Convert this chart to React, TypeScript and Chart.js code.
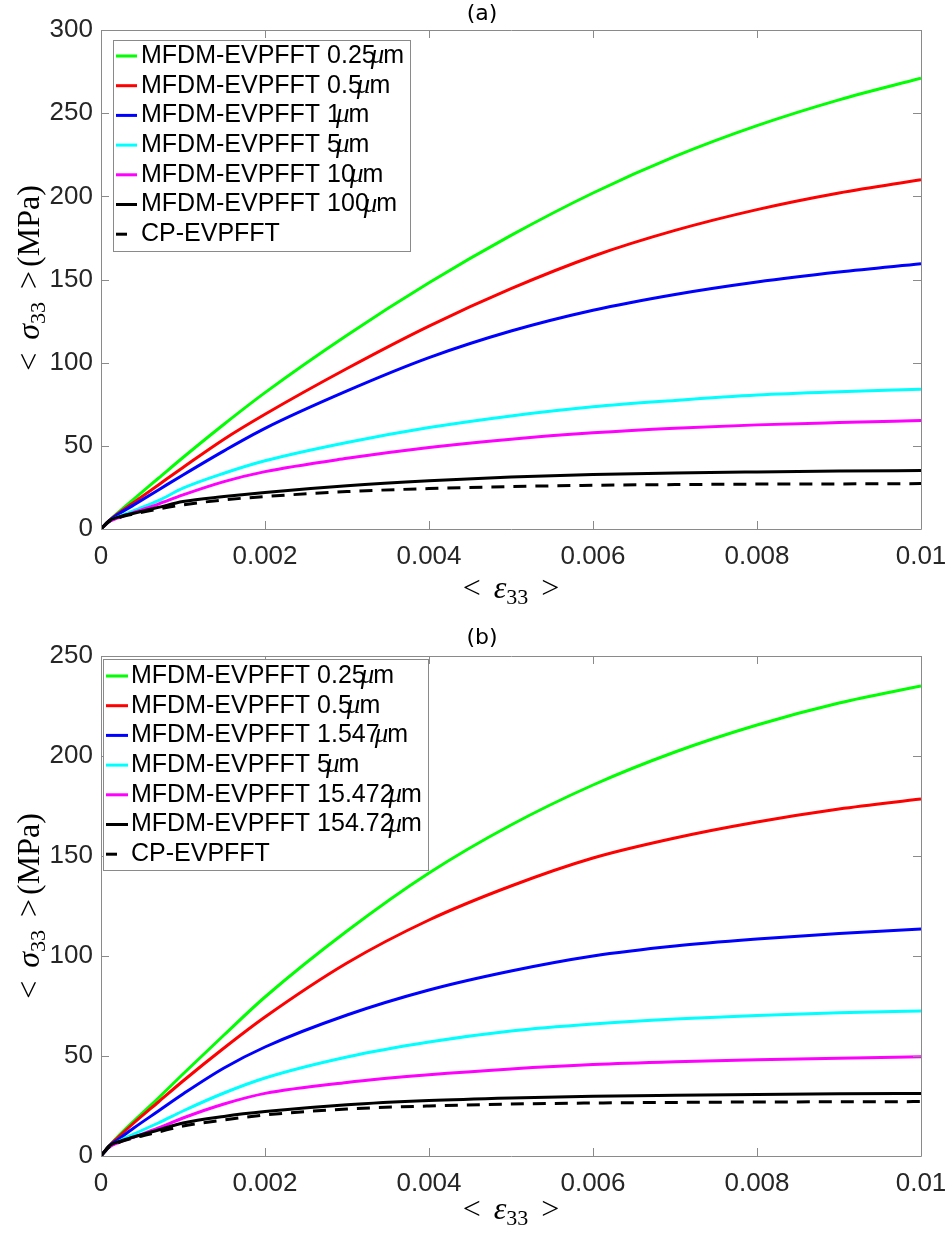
import React, { useEffect, useRef } from "react";
import { Chart, registerables } from "chart.js";

Chart.register(...registerables);

// ---------------- data ----------------
const strain = [0, 0.0001, 0.0002, 0.0004, 0.0007, 0.001, 0.0015, 0.002, 0.003, 0.004, 0.005, 0.006, 0.007, 0.008, 0.009, 0.01];

const xTickValues = [0, 0.002, 0.004, 0.006, 0.008, 0.01];
const xTickLabels = ["0", "0.002", "0.004", "0.006", "0.008", "0.01"];
const yTicksA = [0, 50, 100, 150, 200, 250, 300];
const yTicksB = [0, 50, 100, 150, 200, 250];

const labelsA = [
  "MFDM-EVPFFT 0.25μm",
  "MFDM-EVPFFT 0.5μm",
  "MFDM-EVPFFT 1μm",
  "MFDM-EVPFFT 5μm",
  "MFDM-EVPFFT 10μm",
  "MFDM-EVPFFT 100μm",
  "CP-EVPFFT",
];
const labelsB = [
  "MFDM-EVPFFT 0.25μm",
  "MFDM-EVPFFT 0.5μm",
  "MFDM-EVPFFT 1.547μm",
  "MFDM-EVPFFT 5μm",
  "MFDM-EVPFFT 15.472μm",
  "MFDM-EVPFFT 154.72μm",
  "CP-EVPFFT",
];
const seriesColors = ["#00ff00", "#ff0000", "#0000ff", "#00ffff", "#ff00ff", "#000000", "#000000"];

// panel (a)
const a_025 = [0, 5, 9.5, 18, 30.5, 43, 63, 82, 116.5, 148, 176.5, 202, 224, 242.5, 258, 271];
const a_05 = [0, 5, 9, 16, 26.5, 37, 54, 69, 96.5, 122, 144.5, 164, 179.5, 192, 202, 210];
const a_1 = [0, 5, 8.5, 14.5, 23.5, 32.5, 47, 60.5, 83, 103, 119, 131.5, 141, 148.5, 154.5, 159.5];
const a_5 = [0, 4.5, 7, 11, 17, 24.5, 33.5, 41, 52, 61, 68, 73.5, 77.3, 80.5, 82.5, 84];
const a_10 = [0, 4.5, 6.5, 10, 15, 20.5, 28.5, 34.5, 42.5, 49, 54, 57.8, 60.6, 62.6, 64, 65.2];
const a_100 = [0, 5, 7, 9.5, 13, 16.5, 19.5, 22, 26, 29, 31.3, 32.8, 33.7, 34.3, 34.8, 35.2];
const a_cp = [0, 4.5, 6.5, 9, 12, 14.5, 17.5, 19.5, 22.5, 24.3, 25.5, 26.3, 26.7, 27, 27.1, 27.3];

// panel (b)
const b_025 = [0, 5, 9.5, 17.5, 29, 41, 60.5, 79.5, 112.5, 141.5, 165.5, 185.5, 202, 215.5, 226.5, 235];
const b_05 = [0, 5, 9, 16.5, 27, 37.5, 54, 69.5, 96.5, 118, 135, 149, 159, 167, 173.5, 178.5];
const b_1547 = [0, 5, 8, 14, 22.5, 31, 44, 54.5, 70.5, 83, 92.5, 100, 105, 108.5, 111.3, 113.5];
const b_5 = [0, 4.5, 7, 11, 16.5, 22.5, 31.5, 39, 49.5, 57, 62.5, 66, 68.5, 70.3, 71.6, 72.5];
const b_15472 = [0, 4.5, 6.5, 9.5, 14, 19, 26, 31.3, 36.8, 40.6, 43.5, 45.7, 47.1, 48.1, 48.9, 49.6];
const b_15472b = [0, 5, 7, 9.5, 13, 16.5, 19.8, 22.2, 25.6, 27.7, 29, 29.9, 30.4, 30.8, 31.1, 31.3];
const b_cp = [0, 4.5, 6.5, 9, 12, 15, 18, 20.5, 23.5, 25, 26, 26.5, 26.8, 27, 27.1, 27.2];

const seriesA = [a_025, a_05, a_1, a_5, a_10, a_100, a_cp];
const seriesB = [b_025, b_05, b_1547, b_5, b_15472, b_15472b, b_cp];

// ---------------- styling ----------------
const SANS = '"Liberation Sans", Arial, Helvetica, sans-serif';
const SERIF = '"Liberation Serif", "DejaVu Serif", serif';
const TITLE_FONT = '"DejaVu Sans", sans-serif';
const AXIS_GREY = "#8a8a8a";
const TICK_TEXT = "#262626";

type Panel = {
  height: number;
  padTop: number;
  xAxisH: number;
  yMax: number;
  yTicks: number[];
  title: string;
  titleY: number;
  xTitleY: number;
  yTitleCY: number;
  labels: string[];
  series: number[][];
  legend: { x: number; y: number; w: number; h: number; row0: number; rowH: number; l0: number; l1: number; tx: number };
};

function drawMuLabel(ctx: CanvasRenderingContext2D, text: string, x: number, y: number) {
  const sans = `25px ${SANS}`;
  const idx = text.indexOf("μ");
  ctx.fillStyle = "#000";
  ctx.textBaseline = "middle";
  ctx.textAlign = "left";
  if (idx < 0) {
    ctx.font = sans;
    ctx.fillText(text, x, y);
    return;
  }
  const pre = text.slice(0, idx);
  const post = text.slice(idx + 1);
  ctx.font = sans;
  ctx.fillText(pre, x, y);
  let cx = x + ctx.measureText(pre).width - 5;
  ctx.font = `italic 27px ${SERIF}`;
  ctx.fillText("μ", cx, y);
  cx += ctx.measureText("μ").width - 1;
  ctx.font = sans;
  ctx.fillText(post, cx, y);
}

type Seg = { t: string; f: string; dy?: number; gap?: number };

function drawSegs(ctx: CanvasRenderingContext2D, segs: Seg[], cx: number, cy: number, rot: boolean) {
  ctx.save();
  ctx.translate(cx, cy);
  if (rot) ctx.rotate(-Math.PI / 2);
  ctx.textBaseline = "alphabetic";
  ctx.textAlign = "left";
  ctx.fillStyle = "#000";
  let total = 0;
  for (const s of segs) {
    if (s.gap) { total += s.gap; continue; }
    ctx.font = s.f;
    total += ctx.measureText(s.t).width;
  }
  let x = -total / 2;
  for (const s of segs) {
    if (s.gap) { x += s.gap; continue; }
    ctx.font = s.f;
    ctx.fillText(s.t, x, 9 + (s.dy || 0));
    x += ctx.measureText(s.t).width;
  }
  ctx.restore();
}

const MAIN = `32px ${SERIF}`;
const ITAL = `italic 32px ${SERIF}`;
const SUB = `22px ${SERIF}`;

const xTitleSegs: Seg[] = [
  { t: "<", f: MAIN }, { t: "", f: MAIN, gap: 13 },
  { t: "ε", f: ITAL }, { t: "33", f: SUB, dy: 6 },
  { t: "", f: MAIN, gap: 13 }, { t: ">", f: MAIN },
];
const yTitleSegs: Seg[] = [
  { t: "<", f: MAIN }, { t: "", f: MAIN, gap: 13 },
  { t: "σ", f: ITAL }, { t: "33", f: SUB, dy: 6 },
  { t: "", f: MAIN, gap: 13 }, { t: ">", f: MAIN }, { t: "", f: MAIN, gap: 4 },
  { t: "(MPa)", f: MAIN },
];

function makeDecorPlugin(p: Panel) {
  return {
    id: "decor",
    afterDraw(chart: any) {
      const ctx: CanvasRenderingContext2D = chart.ctx;
      const a = chart.chartArea;
      const xs = chart.scales.x;
      const ys = chart.scales.y;
      ctx.save();
      // box
      ctx.strokeStyle = AXIS_GREY;
      ctx.lineWidth = 1;
      ctx.beginPath();
      ctx.rect(Math.round(a.left) + 0.5, Math.round(a.top) + 0.5, Math.round(a.right - a.left), Math.round(a.bottom - a.top));
      ctx.stroke();
      // ticks inward
      const TL = 8;
      ctx.beginPath();
      for (const v of xTickValues) {
        const px = Math.round(xs.getPixelForValue(v)) + 0.5;
        ctx.moveTo(px, a.bottom); ctx.lineTo(px, a.bottom - TL);
        ctx.moveTo(px, a.top); ctx.lineTo(px, a.top + TL);
      }
      for (const v of p.yTicks) {
        const py = Math.round(ys.getPixelForValue(v)) + 0.5;
        ctx.moveTo(a.left, py); ctx.lineTo(a.left + TL, py);
        ctx.moveTo(a.right, py); ctx.lineTo(a.right - TL, py);
      }
      ctx.stroke();

      // title
      ctx.fillStyle = "#000";
      ctx.font = `22px ${TITLE_FONT}`;
      ctx.textAlign = "center";
      ctx.textBaseline = "middle";
      ctx.fillText(p.title, 482, p.titleY);

      // axis titles
      drawSegs(ctx, xTitleSegs, (a.left + a.right) / 2, p.xTitleY, false);
      drawSegs(ctx, yTitleSegs, 30, p.yTitleCY, true);

      // legend
      const L = p.legend;
      ctx.fillStyle = "#fff";
      ctx.fillRect(L.x, L.y, L.w, L.h);
      ctx.strokeStyle = AXIS_GREY;
      ctx.lineWidth = 1;
      ctx.strokeRect(L.x + 0.5, L.y + 0.5, L.w, L.h);
      p.labels.forEach((lab, i) => {
        const ry = L.row0 + i * L.rowH;
        ctx.strokeStyle = seriesColors[i];
        ctx.lineWidth = 3;
        ctx.beginPath();
        if (i === p.labels.length - 1) {
          ctx.moveTo(L.l0, ry); ctx.lineTo(L.l0 + 11, ry);
        } else {
          ctx.moveTo(L.l0, ry); ctx.lineTo(L.l1, ry);
        }
        ctx.stroke();
        drawMuLabel(ctx, lab, L.tx, ry);
      });
      ctx.restore();
    },
  };
}

function buildConfig(p: Panel): any {
  const n = p.series.length;
  const datasets = p.series.map((vals, i) => ({
    label: p.labels[i],
    data: strain.map((s, k) => ({ x: s, y: vals[k] })),
    borderColor: seriesColors[i],
    backgroundColor: seriesColors[i],
    borderWidth: 3,
    borderDash: i === n - 1 ? [13, 9] : [],
    pointRadius: 0,
    fill: false,
    cubicInterpolationMode: "monotone",
    order: n - i,
  }));
  return {
    type: "line",
    data: { datasets },
    options: {
      animation: false,
      responsive: false,
      maintainAspectRatio: false,
      layout: { padding: { left: 0, right: 31, top: p.padTop, bottom: 0 } },
      plugins: { legend: { display: false }, tooltip: { enabled: false }, title: { display: false } },
      scales: {
        x: {
          type: "linear",
          min: 0,
          max: 0.01,
          grid: { display: false, drawTicks: false },
          border: { display: false },
          afterBuildTicks: (s: any) => { s.ticks = xTickValues.map((v) => ({ value: v })); },
          afterFit: (s: any) => { s.height = p.xAxisH; s.paddingLeft = 0; s.paddingRight = 0; },
          ticks: {
            autoSkip: false,
            maxRotation: 0,
            padding: 12,
            color: TICK_TEXT,
            font: { family: SANS, size: 26 },
            callback: (_v: any, i: number) => xTickLabels[i],
          },
        },
        y: {
          type: "linear",
          min: 0,
          max: p.yMax,
          grid: { display: false, drawTicks: false },
          border: { display: false },
          afterBuildTicks: (s: any) => { s.ticks = p.yTicks.map((v) => ({ value: v })); },
          afterFit: (s: any) => { s.width = 101; s.paddingTop = 0; s.paddingBottom = 0; },
          ticks: {
            autoSkip: false,
            padding: 8,
            color: TICK_TEXT,
            font: { family: SANS, size: 26 },
            callback: (v: any) => String(v),
          },
        },
      },
    },
    plugins: [makeDecorPlugin(p)],
  };
}

const panelA: Panel = {
  height: 620,
  padTop: 30,
  xAxisH: 91,
  yMax: 300,
  yTicks: yTicksA,
  title: "(a)",
  titleY: 14,
  xTitleY: 589,
  yTitleCY: 278,
  labels: labelsA,
  series: seriesA,
  legend: { x: 113, y: 40, w: 297, h: 211, row0: 56, rowH: 29.7, l0: 116, l1: 137, tx: 141 },
};

const panelB: Panel = {
  height: 615,
  padTop: 36,
  xAxisH: 79,
  yMax: 250,
  yTicks: yTicksB,
  title: "(b)",
  titleY: 18,
  xTitleY: 590,
  yTitleCY: 286,
  labels: labelsB,
  series: seriesB,
  legend: { x: 103, y: 39, w: 325, h: 211, row0: 56, rowH: 29.7, l0: 106, l1: 128, tx: 131 },
};

function PlotPanel({ panel, top }: { panel: Panel; top: number }) {
  const ref = useRef<HTMLCanvasElement | null>(null);
  useEffect(() => {
    if (!ref.current) return;
    const chart = new Chart(ref.current, buildConfig(panel));
    return () => chart.destroy();
  }, [panel]);
  return (
    <div style={{ position: "absolute", left: 0, top, width: 952, height: panel.height }}>
      <canvas ref={ref} width={952} height={panel.height} style={{ display: "block", width: 952, height: panel.height }} />
    </div>
  );
}

export default function App() {
  return (
    <div style={{ position: "absolute", left: 0, top: 0, width: 952, height: 1235, background: "#fff", overflow: "hidden" }}>
      <PlotPanel panel={panelA} top={0} />
      <PlotPanel panel={panelB} top={620} />
    </div>
  );
}
